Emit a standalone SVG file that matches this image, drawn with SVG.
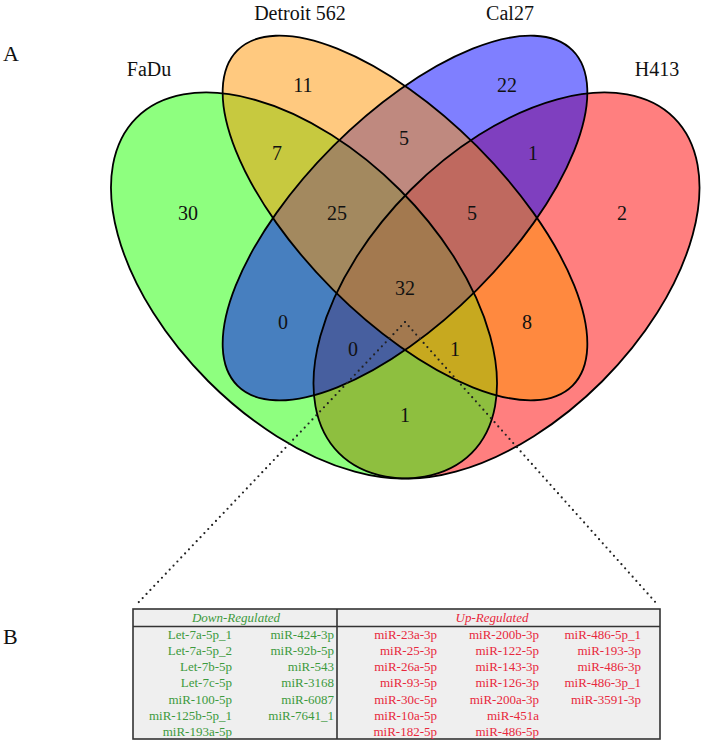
<svg xmlns="http://www.w3.org/2000/svg" width="703" height="743" viewBox="0 0 703 743">
<style>
.fill{stroke:none;opacity:0.5}
.edge{fill:none;stroke:#000;stroke-width:1.8}
.t{font-family:"Liberation Serif","Times New Roman",serif;fill:#111}
.lab{font-size:20px;text-anchor:middle}
.num{font-size:20px;text-anchor:middle}
.big{font-size:22px}
.dn{font-family:"Liberation Serif","Times New Roman",serif;font-size:13px;fill:#3d9a3d;text-anchor:end}
.up{font-family:"Liberation Serif","Times New Roman",serif;font-size:13px;fill:#e8283c;text-anchor:end}
.hd{font-style:italic;text-anchor:middle}
.dot{fill:none;stroke:#222;stroke-width:2.2;stroke-linecap:round;stroke-dasharray:0 5.6}
</style>
<rect width="703" height="743" fill="#fff"/>
<g id="H413">
<ellipse class="fill" fill="#ff0000" cx="506.5" cy="285.5" rx="237" ry="135.4" transform="rotate(-45 506.5 285.5)"/>
</g>
<g id="FaDu">
<ellipse class="fill" fill="#1eff00" cx="304" cy="285.5" rx="237" ry="135.4" transform="rotate(45 304 285.5)"/>
</g>
<g id="Cal27">
<ellipse class="fill" fill="#0000ff" cx="405" cy="218" rx="237" ry="101.6" transform="rotate(-45 405 218)"/>
</g>
<g id="Detroit562">
<ellipse class="fill" fill="#ff9400" cx="405" cy="218" rx="237" ry="101.6" transform="rotate(45 405 218)"/>
</g>
<g id="outlines">
<ellipse class="edge" cx="506.5" cy="285.5" rx="237" ry="135.4" transform="rotate(-45 506.5 285.5)"/>
<ellipse class="edge" cx="304" cy="285.5" rx="237" ry="135.4" transform="rotate(45 304 285.5)"/>
<ellipse class="edge" cx="405" cy="218" rx="237" ry="101.6" transform="rotate(-45 405 218)"/>
<ellipse class="edge" cx="405" cy="218" rx="237" ry="101.6" transform="rotate(45 405 218)"/>
</g>
<g id="set-labels" class="t">
<text class="big" x="3" y="61">A</text>
<text class="big" x="3" y="644">B</text>
<text class="lab" x="149" y="76">FaDu</text>
<text class="lab" x="300" y="20">Detroit 562</text>
<text class="lab" x="510" y="20">Cal27</text>
<text class="lab" x="657" y="76">H413</text>
</g>
<g id="counts" class="t">
<text class="num" x="303" y="92">11</text>
<text class="num" x="507" y="92">22</text>
<text class="num" x="277" y="160">7</text>
<text class="num" x="404" y="145">5</text>
<text class="num" x="533" y="160">1</text>
<text class="num" x="188" y="220">30</text>
<text class="num" x="337" y="220">25</text>
<text class="num" x="472" y="220">5</text>
<text class="num" x="622" y="220">2</text>
<text class="num" x="405" y="295">32</text>
<text class="num" x="283" y="329">0</text>
<text class="num" x="527" y="329">8</text>
<text class="num" x="353" y="356">0</text>
<text class="num" x="455" y="356">1</text>
<text class="num" x="405" y="422">1</text>
</g>
<g id="connectors">
<line class="dot" x1="405" y1="322" x2="137" y2="604"/>
<line class="dot" x1="405" y1="322" x2="657" y2="604"/>
</g>
<g id="table">
<rect x="133" y="609" width="527" height="130" fill="#efefef" stroke="#333" stroke-width="1.6"/>
<line x1="133" y1="626.5" x2="660" y2="626.5" stroke="#333" stroke-width="1.6"/>
<line x1="337" y1="609" x2="337" y2="739" stroke="#333" stroke-width="1.6"/>
<text class="dn hd" x="236" y="622">Down-Regulated</text>
<text class="up hd" x="492" y="622">Up-Regulated</text>
<g class="dn">
<text x="232" y="638.5">Let-7a-5p_1</text>
<text x="232" y="654.8">Let-7a-5p_2</text>
<text x="232" y="671.1">Let-7b-5p</text>
<text x="232" y="687.4">Let-7c-5p</text>
<text x="232" y="703.7">miR-100-5p</text>
<text x="232" y="720">miR-125b-5p_1</text>
<text x="232" y="736.3">miR-193a-5p</text>
<text x="334" y="638.5">miR-424-3p</text>
<text x="334" y="654.8">miR-92b-5p</text>
<text x="334" y="671.1">miR-543</text>
<text x="334" y="687.4">miR-3168</text>
<text x="334" y="703.7">miR-6087</text>
<text x="334" y="720">miR-7641_1</text>
</g>
<g class="up">
<text x="437" y="638.5">miR-23a-3p</text>
<text x="437" y="654.8">miR-25-3p</text>
<text x="437" y="671.1">miR-26a-5p</text>
<text x="437" y="687.4">miR-93-5p</text>
<text x="437" y="703.7">miR-30c-5p</text>
<text x="437" y="720">miR-10a-5p</text>
<text x="437" y="736.3">miR-182-5p</text>
<text x="539" y="638.5">miR-200b-3p</text>
<text x="539" y="654.8">miR-122-5p</text>
<text x="539" y="671.1">miR-143-3p</text>
<text x="539" y="687.4">miR-126-3p</text>
<text x="539" y="703.7">miR-200a-3p</text>
<text x="539" y="720">miR-451a</text>
<text x="539" y="736.3">miR-486-5p</text>
<text x="641" y="638.5">miR-486-5p_1</text>
<text x="641" y="654.8">miR-193-3p</text>
<text x="641" y="671.1">miR-486-3p</text>
<text x="641" y="687.4">miR-486-3p_1</text>
<text x="641" y="703.7">miR-3591-3p</text>
</g>
</g>
</svg>
